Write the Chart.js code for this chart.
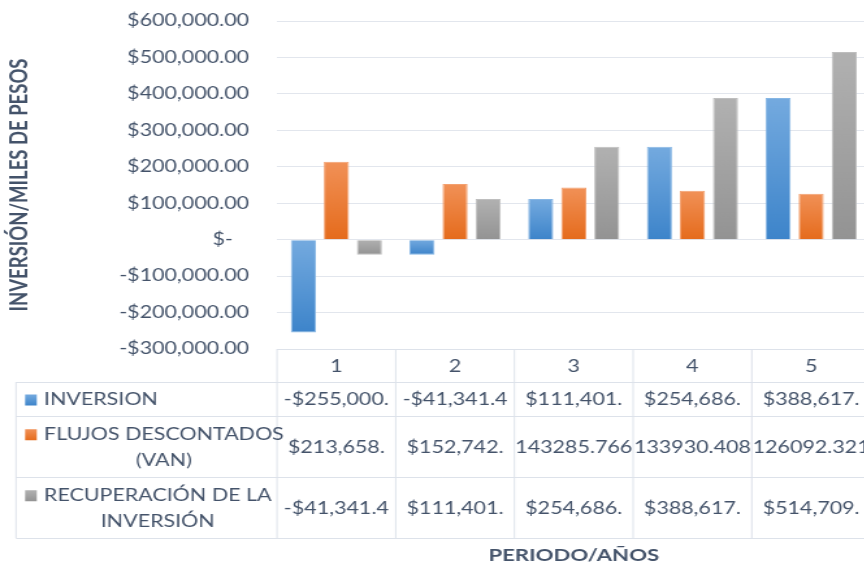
<!DOCTYPE html>
<html>
<head>
<meta charset="utf-8">
<script src="https://cdn.jsdelivr.net/npm/chart.js@4/dist/chart.umd.min.js"></script>
<style>
  html, body { margin: 0; padding: 0; overflow: hidden; background: #ffffff; width: 864px; height: 567px; }
  #wrap { position: absolute; left: 0; top: 0; width: 680px; height: 567px; transform: scaleX(1.3); transform-origin: 0 0; }
</style>
</head>
<body>
<div id="wrap"><canvas id="chart"></canvas></div>
<script>
// ---- data ----
const periods = ['1', '2', '3', '4', '5'];
const inversion = [-255000, -41341.4, 111401, 254686, 388617];
const flujos = [213658, 152742, 143285.766, 133930.408, 126092.321];
const recuperacion = [-41341.4, 111401, 254686, 388617, 514709];
const seriesLabels = [['INVERSION'], ['FLUJOS DESCONTADOS', '(VAN)'], ['RECUPERACIÓN DE LA', 'INVERSIÓN']];
const tableInversion = ['-$255,000.', '-$41,341.4', '$111,401.', '$254,686.', '$388,617.'];
const tableFlujos = ['$213,658.', '$152,742.', '143285.766', '133930.408', '126092.321'];
const tableRecuperacion = ['-$41,341.4', '$111,401.', '$254,686.', '$388,617.', '$514,709.'];
const yMin = -300000, yMax = 600000, yStep = 100000;
const yTitle = 'INVERSIÓN/MILES DE PESOS';
const xTitle = 'PERIODO/AÑOS';

// ---- style ----
const textColor = '#44536A';
const lineColor = '#DDE2EA';
const FONT = 'Lato';
const seriesColors = [
  { top: '#74AADF', bottom: '#3D84CA', border: '#86B6E4' },
  { top: '#F19157', bottom: '#E56B1C', border: '#F3A06F' },
  { top: '#B1B1B1', bottom: '#939393', border: '#BEBEBE' }
];

function barGradient(c) {
  return (ctx) => {
    if (ctx.type !== 'data') return c.bottom;
    const chart = ctx.chart;
    const y = chart.scales && chart.scales.y;
    if (!y || !chart.chartArea) return c.bottom;
    const v = ctx.parsed ? ctx.parsed.y : ctx.raw;
    const p1 = y.getPixelForValue(v), p0 = y.getPixelForValue(0);
    const a = Math.min(p1, p0), b = Math.max(p1, p0);
    if (!isFinite(a) || !isFinite(b) || b - a < 1) return c.bottom;
    const g = chart.ctx.createLinearGradient(0, a, 0, b);
    g.addColorStop(0, c.top);
    g.addColorStop(1, c.bottom);
    return g;
  };
}

function fmtMoney(v) {
  if (v === 0) return '$-\u2002 ';
  const s = Math.abs(v).toLocaleString('en-US', { minimumFractionDigits: 2, maximumFractionDigits: 2 });
  return (v < 0 ? '-$' : '$') + s;
}

const tablePlugin = {
  id: 'dataTable',
  afterDraw(chart) {
    const ctx = chart.ctx;
    const area = chart.chartArea;
    const xs = chart.scales.x;
    const n = periods.length;
    const cw = (area.right - area.left) / n;
    const t = area.bottom;
    const rows = [t, t + 33, t + 67, t + 128, t + 189];
    const tableLeft = 12.3;
    ctx.save();
    ctx.strokeStyle = lineColor;
    ctx.lineWidth = 1;
    ctx.beginPath();
    ctx.moveTo(area.left, rows[0] + 0.5); ctx.lineTo(area.right, rows[0] + 0.5);
    for (let r = 1; r < rows.length; r++) {
      ctx.moveTo(tableLeft, rows[r] + 0.5); ctx.lineTo(area.right, rows[r] + 0.5);
    }
    ctx.moveTo(tableLeft, rows[1]); ctx.lineTo(tableLeft, rows[4]);
    for (let i = 0; i <= n; i++) {
      const x = area.left + i * cw;
      ctx.moveTo(x, rows[0]); ctx.lineTo(x, rows[4]);
    }
    ctx.stroke();

    ctx.fillStyle = textColor;
    ctx.textBaseline = 'middle';
    ctx.textAlign = 'center';
    ctx.font = `16.5px ${FONT}`;
    periods.forEach((p, i) => ctx.fillText(p, xs.getPixelForValue(i), (rows[0] + rows[1]) / 2 + 1));

    const tables = [tableInversion, tableFlujos, tableRecuperacion];
    for (let r = 0; r < 3; r++) {
      const y0 = rows[r + 1], y1 = rows[r + 2];
      const cy = (y0 + y1) / 2 + 1;
      tables[r].forEach((s, i) => ctx.fillText(s, xs.getPixelForValue(i), cy));
      const lines = seriesLabels[r];
      const lh = 25.5;
      const firstY = cy - (lines.length - 1) * lh / 2;
      const textX = 33.8;
      let maxW = 0;
      lines.forEach(l => { maxW = Math.max(maxW, ctx.measureText(l).width); });
      lines.forEach((l, k) => ctx.fillText(l, textX + maxW / 2, firstY + k * lh));
      const c = seriesColors[r];
      const g = ctx.createLinearGradient(0, firstY - 5.5, 0, firstY + 5.5);
      g.addColorStop(0, c.top); g.addColorStop(1, c.bottom);
      ctx.fillStyle = g;
      ctx.fillRect(19.3, firstY - 5.5, 9, 11);
      ctx.fillStyle = textColor;
    }

    ctx.font = `bold 17px ${FONT}`;
    ctx.fillText(xTitle, (area.left + area.right) / 2, t + 207);
    ctx.restore();
  }
};

const ds = (label, data, c) => ({
  label,
  data,
  backgroundColor: barGradient(c),
  borderColor: c.border,
  borderWidth: 1,
  categoryPercentage: 0.835,
  barPercentage: 0.76
});

Chart.defaults.font.family = FONT;
new Chart(document.getElementById('chart'), {
  type: 'bar',
  data: {
    labels: periods,
    datasets: [
      ds(seriesLabels[0].join(' '), inversion, seriesColors[0]),
      ds(seriesLabels[1].join(' '), flujos, seriesColors[1]),
      ds(seriesLabels[2].join(' '), recuperacion, seriesColors[2])
    ]
  },
  options: {
    responsive: true,
    maintainAspectRatio: false,
    animation: false,
    events: [],
    layout: { padding: { top: 21, bottom: 218, left: 0, right: 10.4 } },
    plugins: { legend: { display: false }, tooltip: { enabled: false } },
    scales: {
      x: { display: false },
      y: {
        min: yMin,
        max: yMax,
        border: { display: false },
        grid: { color: '#E2E6ED', lineWidth: 1, drawTicks: false },
        ticks: {
          stepSize: yStep,
          padding: 21.5,
          color: textColor,
          font: { size: 16.5, family: FONT },
          callback: (v) => fmtMoney(v)
        },
        title: {
          display: true,
          text: yTitle,
          color: textColor,
          font: { size: 18.5, weight: 'bold', family: FONT },
          padding: { top: 3.5, bottom: 0 }
        },
        afterFit: (scale) => {
          scale.width = 213.1;
          scale.paddingTop = 0;
          scale.paddingBottom = 0;
        }
      }
    }
  },
  plugins: [tablePlugin]
});
</script>
</body>
</html>
